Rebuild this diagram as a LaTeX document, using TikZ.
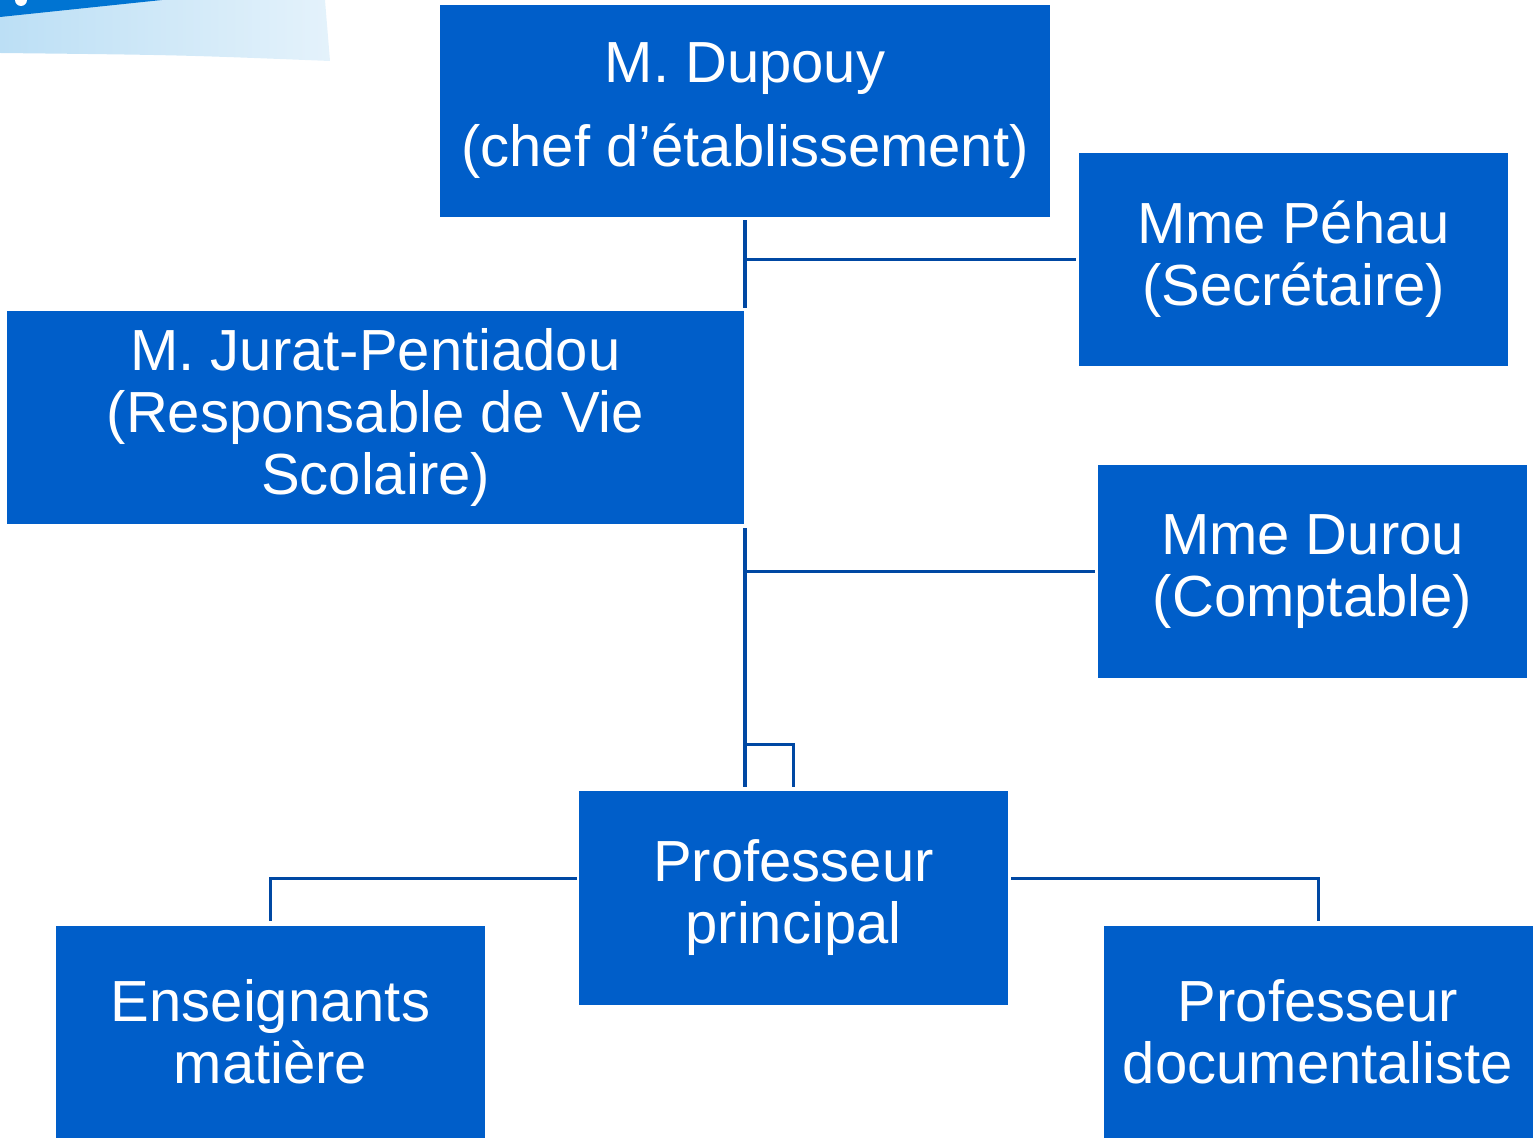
\documentclass[tikz,border=0pt]{standalone}
\usepackage{fontspec}
\setmainfont{Liberation Sans}
\definecolor{boxblue}{RGB}{0,94,201}
\definecolor{lineblue}{RGB}{0,72,163}
\definecolor{bandL}{RGB}{188,223,245}
\definecolor{bandR}{RGB}{228,242,251}
\definecolor{bandD}{RGB}{0,116,210}
\begin{document}
\begin{tikzpicture}[x=0.5pt,y=-0.5pt,
    box/.style={fill=boxblue, text=white, align=center, inner sep=0pt,
                minimum width=214.5pt, minimum height=106.5pt,
                font=\fontsize{29}{31}\selectfont},
    link/.style={draw=lineblue, line width=1.5pt},
    spine/.style={draw=lineblue, line width=2pt}]
                \useasboundingbox (0,0) rectangle (1538,1138);

                \shade[left color=bandL, right color=bandR] (0,0) -- (325,0) -- (330,61) .. controls (180,55) .. (0,53) -- cycle;
                \fill[bandD] (0,0) -- (162,0) -- (0,17) -- cycle;
                \fill[white] (21,0) circle[radius=3pt];

                \node[box, minimum width=305pt, minimum height=106pt] (dupouy) at (745,111) {M. Dupouy\\[11pt](chef d’établissement)};
                \node[box] (pehau) at (1293.5,259.5) {Mme Péhau\\(Secrétaire)};
                \node[box, minimum width=368.5pt] (jurat) at (375.5,417.5) {M. Jurat-Pentiadou\\(Responsable de Vie\\Scolaire)};
                \node[box] (durou) at (1312.5,571.5) {Mme Durou\\(Comptable)};
                \node[box] (pp) at (793.5,898) {Professeur\\principal};
                \node[box] (ens) at (270.5,1032) {Enseignants\\matière};
                \node[box] (doc) at (1318,1032) {Professeur\\documentaliste};

                \coordinate (knee) at (745,745);

                \draw[spine] ([yshift=-1.5pt]dupouy.south) -- ([yshift=1.5pt]dupouy.south |- jurat.north);
                \draw[spine] ([yshift=-2pt]dupouy.south |- jurat.south) -- ([yshift=2pt]dupouy.south |- pp.north);
                \draw[link] (dupouy.south |- pehau.west) -- ([xshift=-1.5pt]pehau.west);
                \draw[link] (dupouy.south |- durou.west) -- ([xshift=-1.5pt]durou.west);
                \draw[link] (knee) -| ([yshift=2pt]pp.north);
                \draw[link] ([xshift=-1pt,yshift=9.5pt]pp.west) -| ([yshift=2pt]ens.north);
                \draw[link] ([xshift=1.5pt,yshift=9.5pt]pp.east) -| ([yshift=2pt]doc.north);
            \end{tikzpicture}
\end{document}
